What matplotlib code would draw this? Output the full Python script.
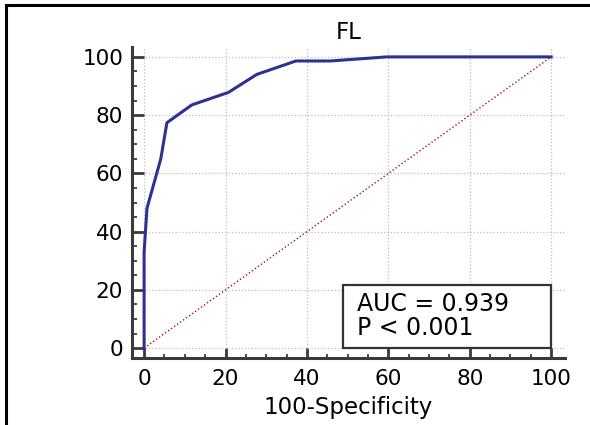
import matplotlib
matplotlib.use("Agg")
import matplotlib.pyplot as plt
from matplotlib.lines import Line2D
from matplotlib.patches import Rectangle
from matplotlib.ticker import MultipleLocator

# ROC data (100-Specificity, Sensitivity)
fpr = [0, 0, 0.7, 2.5, 4.1, 5.6, 11.7, 20.7, 27.7, 37.3, 45.7, 59.6, 100]
tpr = [0, 33, 48, 57, 65, 77.4, 83.5, 87.8, 94, 98.6, 98.6, 100, 100]
diag = [0, 100]
title = "FL"
xlabel = "100-Specificity"
auc_text = "AUC = 0.939"
p_text = "P < 0.001"
ticks = [0, 20, 40, 60, 80, 100]

plt.rcParams['font.family'] = ['DejaVu Sans']

W, H = 590, 425
fig = plt.figure(figsize=(W / 100, H / 100), dpi=100)
left, right, bottom, top = 131.5, 565, 358, 47
ax = fig.add_axes([left / W, 1 - bottom / H, (right - left) / W, (bottom - top) / H])

ax.set_xlim(-3.1, 103.4)
ax.set_ylim(-3.4, 103.4)

ax.grid(True, which='major', color='#bdbdbd', linestyle=':', linewidth=0.9)
ax.set_axisbelow(True)

ax.plot(diag, diag, color='#a31515', linestyle=':', linewidth=1.0, zorder=2)
ax.plot(fpr, tpr, color='#2e3192', linewidth=2.2, zorder=3)

for s in ['top', 'right']:
    ax.spines[s].set_visible(False)
for s in ['left', 'bottom']:
    ax.spines[s].set_color('#3a3a3a')
    ax.spines[s].set_linewidth(2.2)

ax.set_xticks(ticks)
ax.set_yticks(ticks)
ax.xaxis.set_minor_locator(MultipleLocator(5))
ax.yaxis.set_minor_locator(MultipleLocator(5))
ax.tick_params(which='major', direction='in', length=8.8, width=2.0, color='#3a3a3a',
               labelsize=15.5, pad=6)
ax.tick_params(which='minor', direction='in', length=3.8, width=1.3, color='#3a3a3a')
ax.tick_params(axis='x', which='major', length=7.5, pad=8)
ax.tick_params(axis='x', which='minor', length=3.2)

ax.set_xlabel(xlabel, fontsize=16.5, labelpad=5)
ax.set_title(title, fontsize=16.5, pad=6)

box = Rectangle((48.9, 0), 51.1, 21.6, facecolor='white', edgecolor='#333333',
                linewidth=1.6, zorder=4)
ax.add_patch(box)
ax.text(52.3, 12.7, auc_text, fontsize=17, va='baseline', ha='left', zorder=5)
ax.text(52.3, 4.5, p_text, fontsize=17, va='baseline', ha='left', zorder=5)

# outer frame (partially visible)
fig.add_artist(Line2D([6 / W, 6 / W], [0, 1 - 5 / H], color='black', linewidth=2.2,
                      transform=fig.transFigure))
fig.add_artist(Line2D([6 / W, 1], [1 - 5 / H, 1 - 5 / H], color='black', linewidth=2.2,
                      transform=fig.transFigure))

fig.savefig("out.png", dpi=100)
